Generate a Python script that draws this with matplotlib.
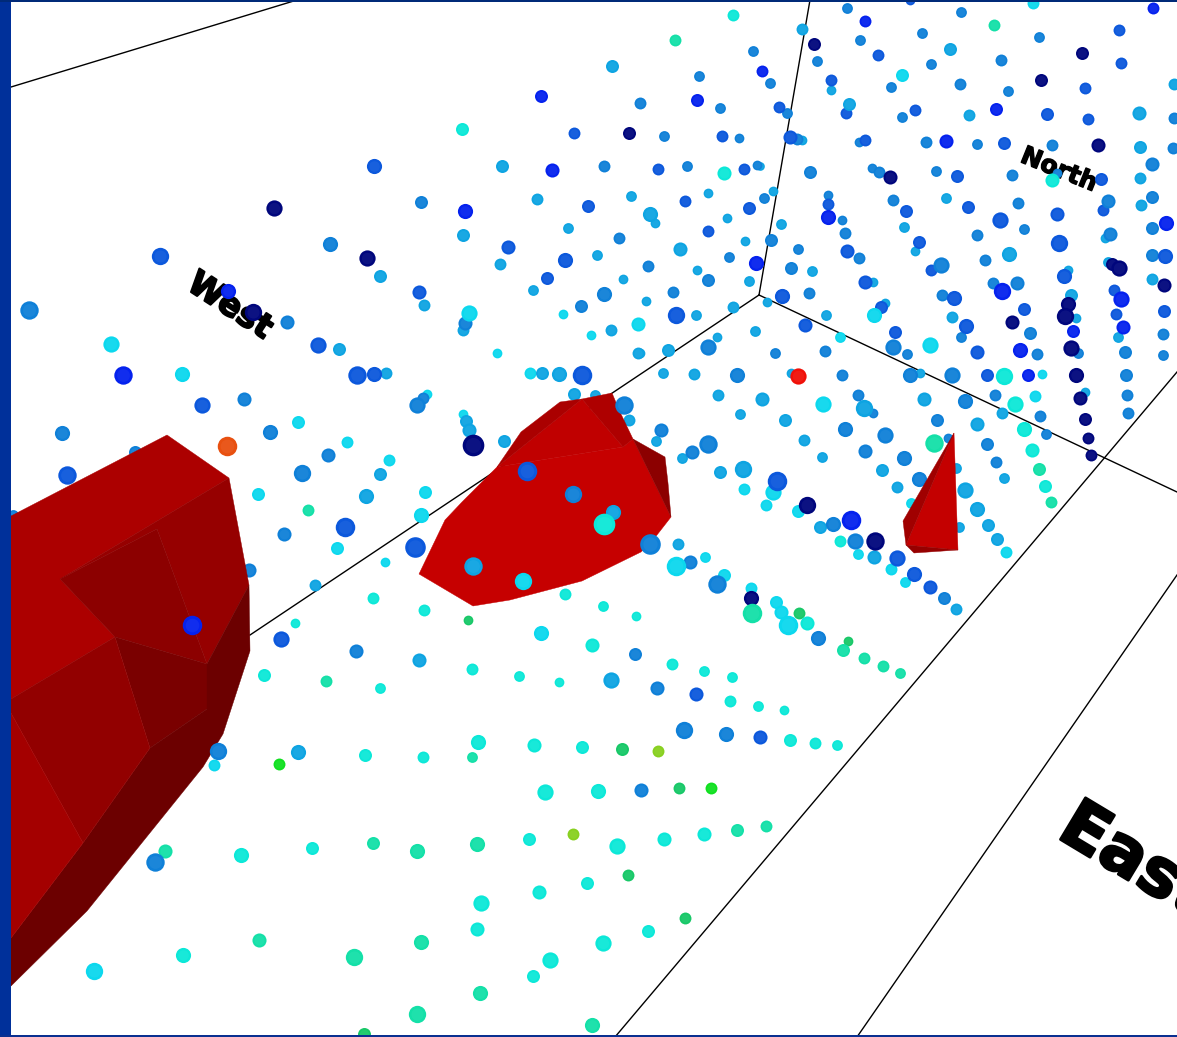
import matplotlib
matplotlib.use("Agg")
import matplotlib.pyplot as plt
import matplotlib.patheffects as pe
from matplotlib.patches import Polygon, Rectangle

# point lists are (x, y, diameter), one list per colour
navy = [(814,44,12),(1082,53,12),(1041,80,12),(1098,145,13),(890,177,13),(1112,264,12),(1119,268,15),(1164,285,13),
        (1068,304,14),(1065,316,16),(1012,322,13),(629,133,12),(1071,348,15),(1076,375,14),(1080,398,13),(1085,419,12),
        (1088,438,11),(1091,455,11),(807,505,16),(875,541,17),(751,598,14),(274,208,15),(367,258,15),(253,312,16),(473,445,20)]
blue = [(865,21,11),(1153,8,11),(762,71,11),(996,109,12),(946,141,13),(828,217,14),(1166,223,14),(1002,291,16),(1121,299,15),
        (541,96,12),(697,100,12),(552,170,13),(465,211,14),(756,263,14),(1073,331,12),(1020,350,14),(1123,327,13),(1028,375,12),
        (851,520,18),(228,291,14),(123,375,17),(192,625,18)]
royal = [(910,0,9),(878,55,11),(1119,30,11),(1121,63,11),(831,80,11),(1085,88,11),(846,113,11),(779,107,11),(915,110,11),(1047,114,12),
         (1088,119,11),(790,137,13),(865,140,11),(1004,143,12),(957,176,12),(1101,179,12),(828,204,11),(906,211,12),(968,207,12),(1057,214,13),
         (1103,210,11),(1000,220,15),(847,251,13),(919,242,12),(1059,243,16),(1165,256,14),(931,270,11),(1064,276,14),(865,282,13),(954,298,14),
         (1114,290,11),(881,307,12),(1024,309,12),(1116,314,11),(1164,311,12),(574,133,11),(722,136,11),(658,169,11),(744,169,11),(588,206,12),
         (685,201,11),(749,208,12),(508,247,13),(708,231,11),(565,260,14),(419,292,13),(547,278,12),(676,315,16),(782,296,14),(805,325,13),
         (895,332,12),(966,326,14),(977,352,13),(987,375,12),(777,481,18),(897,558,15),(914,574,14),(930,587,13),(696,694,13),(760,737,13),
         (281,639,15),(374,166,14),(160,256,16),(318,345,15),(357,375,17),(374,374,14),(202,405,15),(67,475,17),(345,527,18),(415,547,19),
         (582,375,18),(527,471,18)]
mid = [(847,8,10),(961,12,10),(860,40,10),(922,33,10),(1039,37,10),(1001,60,11),(817,61,10),(931,64,10),(770,83,10),(891,87,10),
       (960,84,11),(1008,91,10),(787,113,10),(902,117,10),(797,139,11),(859,142,9),(926,142,11),(977,144,10),(1052,145,11),(1173,148,11),
       (1174,118,11),(810,172,12),(872,168,9),(879,172,11),(936,171,10),(1012,175,11),(1057,173,9),(1152,164,13),(764,198,10),(828,195,9),
       (842,220,9),(893,200,11),(1018,203,11),(1108,201,13),(1152,197,12),(845,233,11),(977,235,11),(1024,229,10),(1110,234,13),(1152,228,12),
       (771,240,12),(798,249,10),(859,258,11),(985,260,11),(1152,255,12),(791,268,12),(941,265,15),(782,296,13),(809,293,11),(942,295,11),
       (993,283,11),(1017,283,13),(753,51,10),(699,76,10),(640,103,11),(720,108,10),(664,136,10),(739,138,9),(604,166,11),(687,166,10),
       (757,165,9),(421,202,12),(619,238,11),(648,266,11),(729,257,10),(708,280,12),(604,294,14),(581,306,12),(673,292,11),(465,323,13),
       (708,347,15),(775,353,10),(825,351,11),(893,347,15),(907,354,10),(1030,333,12),(1037,354,11),(961,337,10),(1078,353,10),(1125,352,12),
       (1126,375,12),(1127,395,11),(1128,413,11),(1163,334,11),(1163,355,10),(737,375,14),(842,375,11),(910,375,14),(952,375,15),(858,395,11),
       (873,413,9),(965,401,14),(995,395,11),(1040,416,11),(845,429,14),(937,420,12),(1046,434,10),(885,435,15),(987,444,12),(661,430,13),
       (708,444,17),(692,452,13),(865,451,13),(904,458,14),(996,462,11),(833,524,14),(855,541,15),(944,598,12),(690,562,13),(717,584,17),
       (818,638,14),(635,654,12),(414,548,14),(356,651,13),(657,688,13),(684,730,16),(726,734,14),(155,862,17),(218,751,16),(641,790,13),
       (330,244,14),(29,310,17),(287,322,13),(417,405,15),(423,398,11),(244,399,13),(62,433,14),(270,432,14),(328,455,13),(302,473,16),
       (284,534,13),(624,405,17),(650,544,19),(573,494,16)]
sky = [(802,29,11),(950,49,12),(831,90,9),(849,104,12),(969,115,11),(1139,113,13),(802,140,9),(1140,147,12),(1174,84,11),(760,166,8),
       (1140,178,11),(773,191,9),(946,198,10),(1141,205,11),(781,224,10),(904,227,10),(1105,238,9),(915,251,9),(1009,254,14),(812,271,10),
       (1068,270,9),(1108,262,10),(1152,279,11),(873,282,9),(767,302,9),(826,315,10),(885,303,9),(952,317,11),(1071,295,12),(612,66,12),
       (502,166,12),(537,199,11),(631,196,10),(708,193,9),(463,235,12),(568,228,10),(650,214,14),(655,223,9),(727,218,9),(500,264,11),
       (597,255,10),(680,249,13),(745,241,9),(424,305,11),(533,290,10),(623,279,9),(697,270,9),(749,281,10),(646,301,9),(463,330,11),
       (696,315,10),(733,307,11),(611,330,11),(717,337,9),(755,331,10),(668,350,12),(640,353,9),(1076,318,9),(1085,392,9),(1118,337,10),
       (663,373,10),(694,374,11),(920,373,9),(718,395,11),(762,399,13),(864,408,16),(924,399,13),(1002,413,11),(740,414,10),(785,420,12),
       (977,424,13),(804,440,11),(656,441,10),(682,458,10),(822,457,10),(720,472,12),(743,469,16),(882,470,12),(1004,478,10),(897,487,11),
       (965,490,15),(977,509,14),(820,527,12),(988,525,12),(997,539,12),(874,557,13),(956,609,11),(678,544,11),(611,680,15),(419,660,13),
       (298,752,14),(380,276,12),(339,349,12),(386,373,11),(366,496,14),(380,474,12),(466,421,12),(469,430,13),(504,441,12),(542,373,12),
       (559,374,14),(638,353,11),(613,512,14),(473,566,17),(315,585,11)]
cyan = [(1033,3,11),(902,75,12),(874,315,14),(469,313,15),(563,314,9),(638,324,13),(591,335,9),(497,353,9),(530,373,11),(840,337,10),
        (930,345,15),(1042,374,9),(1035,396,11),(823,404,15),(773,492,15),(744,489,11),(766,505,11),(798,511,12),(858,554,10),(891,569,11),
        (905,582,10),(1006,552,11),(705,557,10),(676,566,18),(724,575,12),(751,588,11),(776,602,12),(781,612,13),(788,625,18),(541,633,14),
        (111,344,15),(182,374,14),(427,394,9),(298,422,12),(347,442,11),(389,460,11),(258,494,12),(425,492,12),(421,515,14),(337,548,12),
        (463,414,9),(523,581,16),(214,765,11),(94,971,16),(385,562,9)]
aqua = [(733,15,11),(462,129,12),(724,173,13),(1052,180,13),(1004,376,16),(1015,404,15),(1024,429,14),(1032,450,13),(1045,486,12),(807,623,13),
        (565,594,11),(603,606,10),(636,616,9),(424,610,11),(373,598,11),(295,623,9),(264,675,12),(592,645,13),(672,664,11),(704,671,10),
        (732,677,10),(472,669,11),(519,676,10),(559,682,9),(730,701,11),(758,706,10),(784,710,9),(380,688,10),(790,740,12),(815,743,11),
        (837,745,10),(478,742,14),(534,745,13),(582,747,12),(423,757,11),(365,755,12),(545,792,15),(598,791,14),(529,839,12),(617,846,15),
        (664,839,13),(704,834,13),(312,848,12),(241,855,14),(587,883,12),(539,892,13),(481,903,15),(477,929,13),(183,955,14),(648,931,12),
        (603,943,15),(550,960,15),(533,976,12),(604,524,20),(840,541,11)]
teal = [(994,25,11),(675,40,11),(934,443,17),(1039,469,12),(1051,502,11),(752,613,18),(843,650,12),(864,658,11),(883,666,11),(900,673,10),
        (326,681,11),(472,757,10),(737,830,12),(766,826,11),(477,844,14),(417,851,14),(373,843,12),(165,851,13),(421,942,14),(354,957,16),
        (259,940,13),(480,993,14),(417,1014,16),(592,1025,14),(308,510,11)]
green = [(799,613,11),(848,641,9),(468,620,9),(622,749,12),(679,788,11),(628,875,11),(685,918,11),(364,1034,12)]
bright_green = [(279,764,11),(711,788,11)]
lime = [(658,751,11),(573,834,11)]
orange = [(227,446,18)]
red = [(798,376,15)]

# dots that pass behind the red shapes
hidden_mid = [(135,452,12),(13,515,10),(249,570,13),(948,438,9),(919,479,14)]
hidden_sky = [(574,394,12),(595,395,10),(629,420,11),(956,468,10),(959,527,10),(791,373,9)]
hidden_cyan = [(911,503,10)]

point_groups = [(navy,"#00067c"),(blue,"#0522ee"),(royal,"#0c58dc"),(mid,"#0f80d8"),(sky,"#0ea4e2"),(cyan,"#0cd8ee"),
                (aqua,"#0ce8d8"),(teal,"#14e0a8"),(green,"#18c868"),(bright_green,"#10e020"),(lime,"#88d020"),
                (orange,"#e85010"),(red,"#f01008")]
hidden_groups = [(hidden_mid,"#0f80d8"),(hidden_sky,"#0ea4e2"),(hidden_cyan,"#0cd8ee")]

# red surfaces, shaded facets
blob_facets = [([(419,574),(473,606),(510,600),(582,581),(641,552),(657,535),(671,517),(633,439),(623,447),(497,467),(462,502),(445,520)],"#c60000"),
               ([(582,399),(623,447),(497,467)],"#c00000"),
               ([(560,402),(582,399),(497,467),(521,432)],"#aa0000"),
               ([(582,399),(612,393),(620,412),(633,439),(623,447)],"#ae0000"),
               ([(633,439),(665,457),(668,483),(671,517)],"#8c0000")]
cone_facets = [([(954,433),(958,550),(906,545)],"#c40000"),
               ([(954,433),(906,545),(903,521)],"#a00000"),
               ([(906,545),(914,553),(958,550)],"#960000")]
big_facets = [([(11,516),(167,435),(229,478),(60,579),(115,637),(11,699)],"#ac0000"),
              ([(229,478),(249,585),(207,664),(157,529),(60,579)],"#960000"),
              ([(60,579),(157,529),(207,664),(115,637)],"#8c0000"),
              ([(115,637),(207,664),(207,709),(150,748)],"#7a0000"),
              ([(249,585),(250,651),(223,734),(203,767),(87,911),(11,986),(11,938),(83,843),(150,748),(207,709),(207,664)],"#6c0000"),
              ([(11,699),(115,637),(150,748),(83,843),(11,713)],"#920000"),
              ([(11,713),(83,843),(11,938)],"#a40000")]

frame_lines = [[(11,87),(297,0)],[(759,295),(810,0)],[(759,295),(250,635)],[(759,295),(1177,492)],[(1177,372),(615,1037)],[(1177,575),(857,1037)]]

# text, x, y, rotation, size, stroke
labels = [("West",230,306,-33,24,1.5),("North",1059,170,-22,18,1.0),("East",1065,820,-31,48,2.0)]


fig = plt.figure(figsize=(11.77,10.37),dpi=100,facecolor="white")
ax = fig.add_axes([0,0,1,1])
ax.set_xlim(0,1177)
ax.set_ylim(1037,0)
ax.axis("off")

for line in frame_lines:
    ax.plot([p[0] for p in line],[p[1] for p in line],color="black",lw=1.0,zorder=1)


def draw_points(group,color,z):
    for x,y,d in sorted(group,key=lambda p:p[2]):
        ax.scatter([x],[y],s=(d*0.78)**2,color=color,linewidths=0,zorder=z+d/100)
        ax.scatter([x],[y],s=(d*0.78*0.7)**2,color="white",alpha=0.05,linewidths=0,zorder=z+d/100+0.001)


for group,color in hidden_groups:
    draw_points(group,color,2)

for facets in (blob_facets,cone_facets,big_facets):
    for pts,color in facets:
        ax.add_patch(Polygon(pts,closed=True,facecolor=color,edgecolor=color,lw=0.3,zorder=3))

for group,color in point_groups:
    draw_points(group,color,4)

for txt,x,y,rot,size,stroke in labels:
    ha = "left" if txt == "East" else "center"
    t = ax.text(x,y,txt,rotation=rot,fontsize=size,fontweight="bold",color="black",ha=ha,va="center",
                rotation_mode="anchor",zorder=3.5,clip_on=True)
    t.set_path_effects([pe.withStroke(linewidth=stroke,foreground="black")])

# blue slide border
ax.add_patch(Rectangle((0,0),11,1037,facecolor="#00309a",edgecolor="none",zorder=10))
ax.add_patch(Rectangle((0,0),1177,2,facecolor="#002a78",edgecolor="none",zorder=10))
ax.add_patch(Rectangle((0,1035),1177,2,facecolor="#0a3090",edgecolor="none",zorder=10))

fig.savefig("out.png",dpi=100)
